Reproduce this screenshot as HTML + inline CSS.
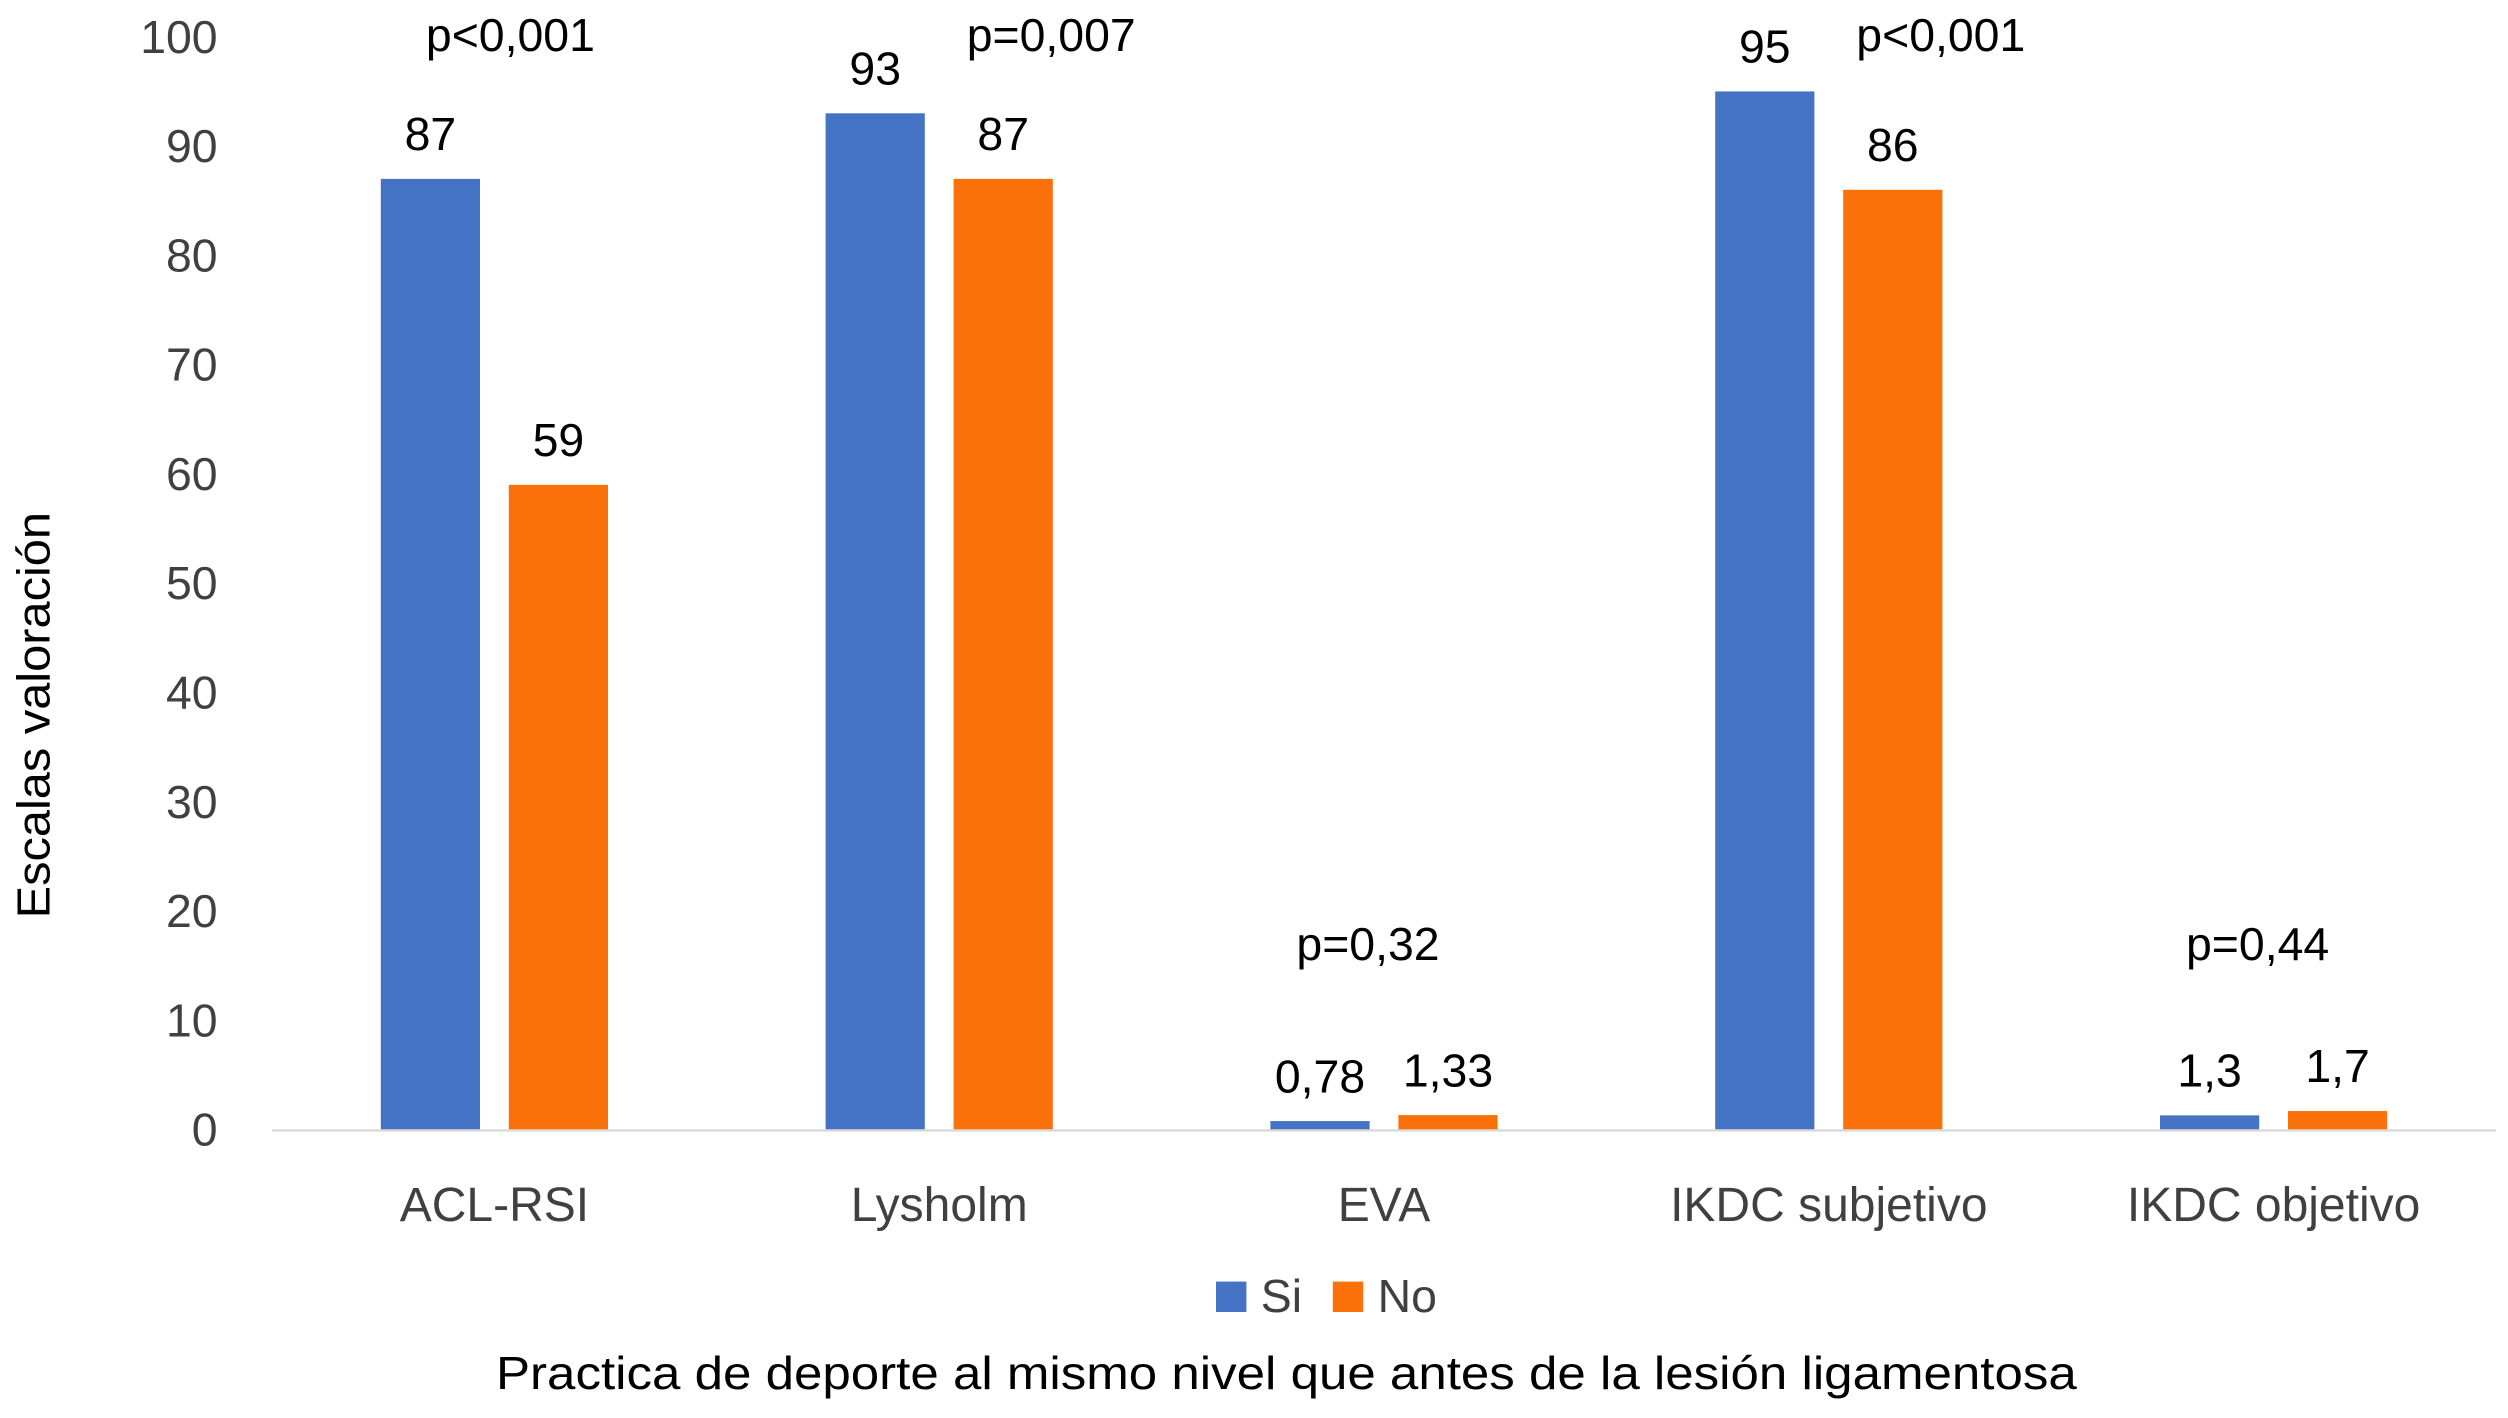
<!DOCTYPE html>
<html><head><meta charset="utf-8"><style>
html,body{margin:0;padding:0;background:#fff}
svg{display:block;font-family:"Liberation Sans",sans-serif}
</style></head><body>
<svg id="chart" width="2508" height="1418" viewBox="0 0 1567.5 886.25" xmlns="http://www.w3.org/2000/svg">
<rect width="1567.5" height="886.25" fill="#fff"/>
<g id="ticks"></g><g id="bars"></g><g id="labels"></g>
<line x1="170" x2="1560" y1="706.5" y2="706.5" stroke="#d9d9d9" stroke-width="1.5"/>
<text transform="translate(31,447) rotate(-90)" text-anchor="middle" font-size="29" fill="#000" textLength="254" lengthAdjust="spacingAndGlyphs">Escalas valoración</text>
<text x="804" y="868" text-anchor="middle" font-size="29" fill="#000" textLength="988" lengthAdjust="spacingAndGlyphs">Practica de deporte al mismo nivel que antes de la lesión ligamentosa</text>
<g>
<rect x="760" y="801" width="19" height="19" fill="#4472c4"/>
<text x="788" y="820" font-size="29" fill="#404040">Si</text>
<rect x="833" y="801" width="19" height="19" fill="#fa7109"/>
<text x="861" y="820" font-size="29" fill="#404040">No</text>
</g>
</svg>
<script>
const categories = ["ACL-RSI","Lysholm","EVA","IKDC subjetivo","IKDC objetivo"];
const siValues = [87,93,0.78,95,1.3];
const noValues = [59,87,1.33,86,1.7];
const siLabels = ["87","93","0,78","95","1,3"];
const noLabels = ["59","87","1,33","86","1,7"];
const pValues = ["p<0,001","p=0,007","p=0,32","p<0,001","p=0,44"];
const yTicks = [0,10,20,30,40,50,60,70,80,90,100];

const NS="http://www.w3.org/2000/svg";
const y = v => 706 - v*6.83;
const xc = i => 309 + i*278;
function mk(tag, attrs, parent, text){
  const e=document.createElementNS(NS,tag);
  for(const k in attrs) e.setAttribute(k,attrs[k]);
  if(text!==undefined) e.textContent=text;
  parent.appendChild(e); return e;
}
const gt=document.getElementById('ticks'), gb=document.getElementById('bars'), gl=document.getElementById('labels');
yTicks.forEach(t=>{
  const e=mk('text',{x:136,y:y(t)+10,'text-anchor':'end','font-size':29,fill:'#404040'},gt,String(t));
  
  
});
categories.forEach((c,i)=>{
  const bs=mk('rect',{x:xc(i)-71,y:y(siValues[i]),width:62,height:y(0)-y(siValues[i]),fill:'#4472c4'},gb);
  
  
  const bn=mk('rect',{x:xc(i)+9,y:y(noValues[i]),width:62,height:y(0)-y(noValues[i]),fill:'#fa7109'},gb);
  
  
  const ls=mk('text',{x:xc(i)-40,y:y(siValues[i])-18,'text-anchor':'middle','font-size':29,fill:'#000'},gl,siLabels[i]);
  
  
  const ln=mk('text',{x:xc(i)+40,y:y(noValues[i])-18,'text-anchor':'middle','font-size':29,fill:'#000'},gl,noLabels[i]);
  
  
  const cl=mk('text',{x:xc(i),y:763,'text-anchor':'middle','font-size':30,fill:'#404040'},gl,c);
  
  
  const top=Math.max(siValues[i],noValues[i]);
  const py = top>50 ? 32 : 600;
  const px = top>50 ? xc(i)+70-(i===0?60:0) : xc(i)-10;
  const p=mk('text',{x:px,y:py,'text-anchor':'middle','font-size':29,fill:'#000'},gl,pValues[i]);
  
  
});
</script>
</body></html>
